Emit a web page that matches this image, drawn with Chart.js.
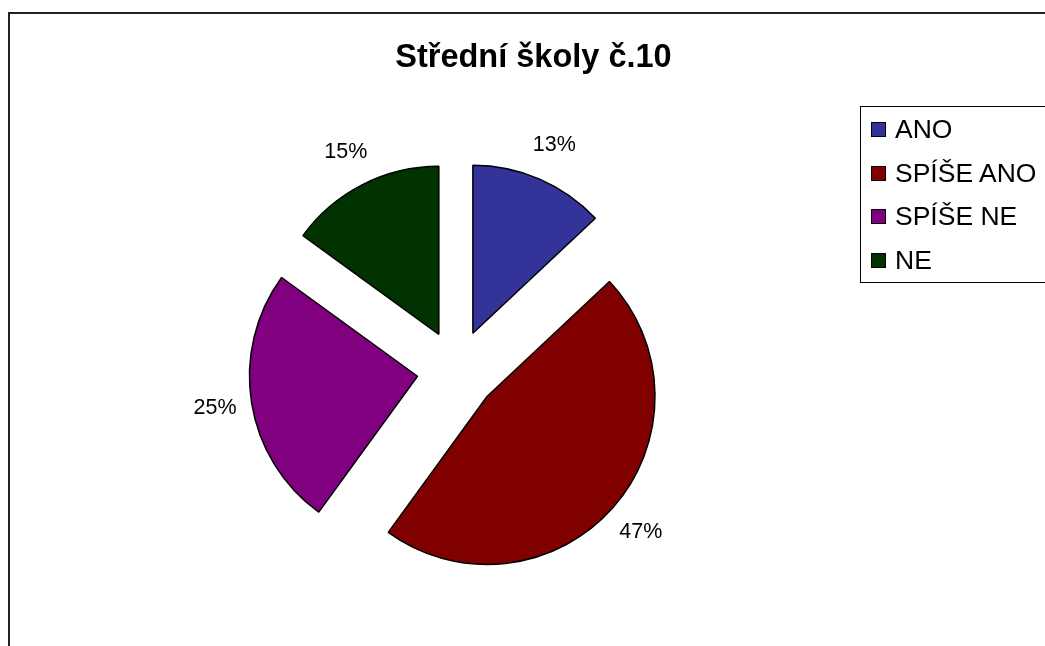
<!DOCTYPE html>
<html lang="cs">
<head>
  <meta charset="UTF-8">
  <title>Střední školy č.10</title>
  <script src="https://cdn.jsdelivr.net/npm/chart.js"></script>
  <style>
    html, body { margin: 0; padding: 0; background: #fff; overflow: hidden; }
    body { width: 1045px; height: 646px; position: relative; font-family: "Liberation Sans", Arial, sans-serif; }
    #frame {
      position: absolute; left: 8px; top: 12px;
      width: 1100px; height: 700px;
      border-left: 2px solid #222; border-top: 2px solid #222;
    }
    #chart { position: absolute; left: 0; top: 0; }
    #title {
      position: absolute; left: 0; top: 40px; width: 1067px;
      text-align: center; font-weight: bold; font-size: 32.5px; line-height: 32px;
      color: #000; white-space: nowrap;
    }
    #legend {
      position: absolute; left: 860px; top: 106px;
      width: 300px; padding-top: 1px;
      border: 1px solid #000;
    }
    .legend-row {
      height: 43.5px; line-height: 43.5px;
      display: flex; align-items: center;
      font-size: 26.5px; color: #000; white-space: nowrap;
    }
    .legend-box {
      width: 13px; height: 13px; border: 1px solid #000;
      margin-left: 10px; margin-right: 9px; flex: none;
    }
  </style>
</head>
<body>
  <div id="frame"></div>
  <canvas id="chart" width="1045" height="646"></canvas>
  <div id="title">Střední školy č.10</div>
  <div id="legend"></div>

  <script>
    // odpovědi a jejich podíl v procentech
    const categories = ["ANO", "SPÍŠE ANO", "SPÍŠE NE", "NE"];
    const values = [13, 47, 25, 15];
    const colors = ["#333399", "#800000", "#800080", "#003300"];

    const EXPLODE = 40;     // vysunutí výsečí od středu
    const LABEL_GAP = 37;   // popisky za okrajem výseče

    // legenda vedle grafu
    const legend = document.getElementById("legend");
    categories.forEach((name, i) => {
      const row = document.createElement("div");
      row.className = "legend-row";
      const box = document.createElement("span");
      box.className = "legend-box";
      box.style.background = colors[i];
      row.appendChild(box);
      row.appendChild(document.createTextNode(name));
      legend.appendChild(row);
    });

    // posune každou výseč ven po její ose
    const explodePlugin = {
      id: "explode",
      afterDatasetsUpdate(chart) {
        chart.getDatasetMeta(0).data.forEach(arc => {
          const mid = (arc.startAngle + arc.endAngle) / 2;
          arc.x += Math.cos(mid) * EXPLODE;
          arc.y += Math.sin(mid) * EXPLODE;
        });
      }
    };

    // procenta vně výsečí
    const percentPlugin = {
      id: "percentLabels",
      afterDatasetsDraw(chart) {
        const ctx = chart.ctx;
        const total = values.reduce((a, b) => a + b, 0);
        ctx.save();
        ctx.font = '21.5px "Liberation Sans", Arial, sans-serif';
        ctx.fillStyle = "#000";
        ctx.textAlign = "center";
        ctx.textBaseline = "middle";
        chart.getDatasetMeta(0).data.forEach((arc, i) => {
          const mid = (arc.startAngle + arc.endAngle) / 2;
          const d = arc.outerRadius + LABEL_GAP;
          const pct = Math.round(values[i] / total * 100) + "%";
          ctx.fillText(pct, arc.x + Math.cos(mid) * d, arc.y + Math.sin(mid) * d);
        });
        ctx.restore();
      }
    };

    new Chart(document.getElementById("chart").getContext("2d"), {
      type: "pie",
      data: {
        labels: categories,
        datasets: [{
          data: values,
          backgroundColor: colors,
          borderColor: "#000",
          borderWidth: 1.5,
          radius: 168
        }]
      },
      options: {
        responsive: false,
        animation: false,
        layout: { padding: { left: 0, right: 131, top: 94, bottom: 0 } },
        plugins: {
          legend: { display: false },
          title: { display: false },
          tooltip: { enabled: false }
        }
      },
      plugins: [explodePlugin, percentPlugin]
    });
  </script>
</body>
</html>
